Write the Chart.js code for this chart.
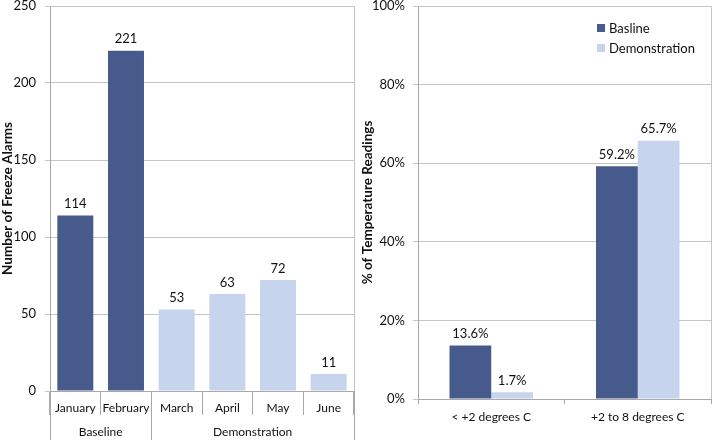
<!DOCTYPE html>
<html>
<head>
<meta charset="utf-8">
<script src="https://cdn.jsdelivr.net/npm/chart.js@4"></script>
<style>
  html, body { margin: 0; padding: 0; background: #fff; }
  #wrap { position: relative; width: 716px; height: 440px; }
  .box { position: absolute; top: 0; height: 440px; }
  #leftBox { left: 0; width: 356px; }
  #rightBox { left: 356px; width: 360px; }
</style>
</head>
<body>
<div id="wrap">
  <div class="box" id="leftBox"><canvas id="alarmsChart"></canvas></div>
  <div class="box" id="rightBox"><canvas id="tempChart"></canvas></div>
</div>
<script>
// left chart data
const months = ['January', 'February', 'March', 'April', 'May', 'June'];
const groupNames = ['Baseline', 'Demonstration'];
const groupSizes = [2, 4];
const freezeAlarms = [114, 221, 53, 63, 72, 11];
const alarmTicks = [0, 50, 100, 150, 200, 250];

// right chart data
const tempRanges = ['< +2 degrees C', '+2 to 8 degrees C'];
const seriesNames = ['Basline', 'Demonstration'];
const baselinePct = [13.6, 59.2];
const demoPct = [1.7, 65.7];
const pctTicks = [0, 20, 40, 60, 80, 100];

const DARK = '#465b8c';
const LIGHT = '#c6d4ee';
const GRID = '#c4c4c4';
const AXIS = '#a8a8a8';
const FONT = 'Lato, "Open Sans", sans-serif';

Chart.defaults.font.family = FONT;
Chart.defaults.color = '#111';
Chart.defaults.animation = false;

// bar colour follows the group (baseline months dark, demonstration months light)
const monthColors = [];
groupSizes.forEach((n, g) => { for (let i = 0; i < n; i++) monthColors.push(g === 0 ? DARK : LIGHT); });

// value labels above every bar
const valueLabels = {
  id: 'valueLabels',
  afterDatasetsDraw(chart, args, opts) {
    const ctx = chart.ctx;
    ctx.save();
    ctx.font = '13px ' + FONT;
    ctx.fillStyle = '#111';
    ctx.textAlign = 'center';
    ctx.textBaseline = 'bottom';
    chart.data.datasets.forEach((ds, di) => {
      chart.getDatasetMeta(di).data.forEach((bar, i) => {
        ctx.fillText(opts.fmt(ds.data[i]), bar.x, bar.y - 5);
      });
    });
    ctx.restore();
  }
};

// grey frame on top and right of the plot area
const plotFrame = {
  id: 'plotFrame',
  beforeDatasetsDraw(chart) {
    const { ctx, chartArea: a } = chart;
    ctx.save();
    ctx.strokeStyle = GRID;
    ctx.lineWidth = 1;
    ctx.beginPath();
    ctx.moveTo(a.left, a.top + 0.5);
    ctx.lineTo(a.right + 0.5, a.top + 0.5);
    ctx.lineTo(a.right + 0.5, a.bottom);
    ctx.stroke();
    ctx.restore();
  }
};

// second level of category labels (Baseline / Demonstration)
const groupAxis = {
  id: 'groupAxis',
  afterDraw(chart) {
    const { ctx, chartArea: a } = chart;
    const x = chart.scales.x;
    const half = (x.getPixelForValue(1) - x.getPixelForValue(0)) / 2;
    ctx.save();
    ctx.strokeStyle = AXIS;
    ctx.lineWidth = 1;
    ctx.font = '12px ' + FONT;
    ctx.fillStyle = '#111';
    ctx.textAlign = 'center';
    ctx.textBaseline = 'middle';
    let start = 0;
    groupNames.forEach((name, g) => {
      const l = x.getPixelForValue(start) - half;
      const r = x.getPixelForValue(start + groupSizes[g] - 1) + half;
      ctx.beginPath();
      if (g === 0) { ctx.moveTo(Math.round(l) + 0.5, a.bottom); ctx.lineTo(Math.round(l) + 0.5, chart.height); }
      ctx.moveTo(Math.round(r) + 0.5, a.bottom);
      ctx.lineTo(Math.round(r) + 0.5, chart.height);
      ctx.stroke();
      ctx.fillText(name, (l + r) / 2, a.bottom + 41);
      start += groupSizes[g];
    });
    ctx.restore();
  }
};

// legend drawn inside the plot area, top right
const innerLegend = {
  id: 'innerLegend',
  afterDraw(chart) {
    const { ctx, chartArea: a } = chart;
    ctx.save();
    ctx.font = '13px ' + FONT;
    ctx.textBaseline = 'middle';
    chart.data.datasets.forEach((ds, i) => {
      const y = a.top + 22 + i * 20;
      const x = a.left + 179;
      ctx.fillStyle = ds.backgroundColor;
      ctx.fillRect(x, y - 4, 8, 8);
      ctx.fillStyle = '#111';
      ctx.fillText(ds.label, x + 12, y + 1);
    });
    ctx.restore();
  }
};

// y axis: fixed width, and no extra top padding from the tick label gap
const fixY = w => s => { s.width = w; s.paddingTop = 0; s.paddingBottom = 0; };

new Chart(document.getElementById('alarmsChart'), {
  type: 'bar',
  data: {
    labels: months,
    datasets: [{
      data: freezeAlarms,
      backgroundColor: monthColors,
      categoryPercentage: 0.71,
      barPercentage: 1.0
    }]
  },
  options: {
    responsive: true,
    maintainAspectRatio: false,
    layout: { padding: { top: 6, right: 2, left: 0, bottom: 0 } },
    plugins: {
      legend: { display: false },
      tooltip: { enabled: false },
      valueLabels: { fmt: v => String(v) }
    },
    scales: {
      x: {
        grid: { offset: true, drawOnChartArea: false, tickLength: 24, color: AXIS },
        border: { color: AXIS },
        ticks: { font: { size: 12 }, padding: -14, maxRotation: 0, autoSkip: false },
        afterFit: s => { s.height = 49; }
      },
      y: {
        min: 0,
        max: 250,
        afterBuildTicks: s => { s.ticks = alarmTicks.map(v => ({ value: v })); },
        grid: { color: GRID, tickLength: 5 },
        border: { color: AXIS },
        ticks: { font: { size: 13 }, padding: 9 },
        title: { display: true, text: 'Number of Freeze Alarms', font: { size: 13.5, weight: 'bold' }, padding: { top: 0, bottom: 0 } },
        afterFit: fixY(50)
      }
    }
  },
  plugins: [valueLabels, plotFrame, groupAxis]
});

new Chart(document.getElementById('tempChart'), {
  type: 'bar',
  data: {
    labels: tempRanges,
    datasets: [
      { label: seriesNames[0], data: baselinePct, backgroundColor: DARK },
      { label: seriesNames[1], data: demoPct, backgroundColor: LIGHT }
    ]
  },
  options: {
    responsive: true,
    maintainAspectRatio: false,
    layout: { padding: { top: 6, right: 5, left: 0, bottom: 0 } },
    datasets: { bar: { categoryPercentage: 0.57, barPercentage: 1.0 } },
    plugins: {
      legend: { display: false },
      tooltip: { enabled: false },
      valueLabels: { fmt: v => v.toFixed(1) + '%' }
    },
    scales: {
      x: {
        grid: { offset: true, drawOnChartArea: false, tickLength: 5, color: AXIS },
        border: { color: AXIS },
        ticks: { font: { size: 12 }, padding: 6, maxRotation: 0 },
        afterFit: s => { s.height = 41; }
      },
      y: {
        min: 0,
        max: 100,
        afterBuildTicks: s => { s.ticks = pctTicks.map(v => ({ value: v })); },
        grid: { color: GRID, tickLength: 5 },
        border: { color: AXIS },
        ticks: { font: { size: 13 }, padding: 8, callback: v => v + '%' },
        title: { display: true, text: '% of Temperature Readings', font: { size: 13.5, weight: 'bold' }, padding: { top: 4, bottom: 0 } },
        afterFit: fixY(62)
      }
    }
  },
  plugins: [valueLabels, plotFrame, innerLegend]
});
</script>
</body>
</html>
